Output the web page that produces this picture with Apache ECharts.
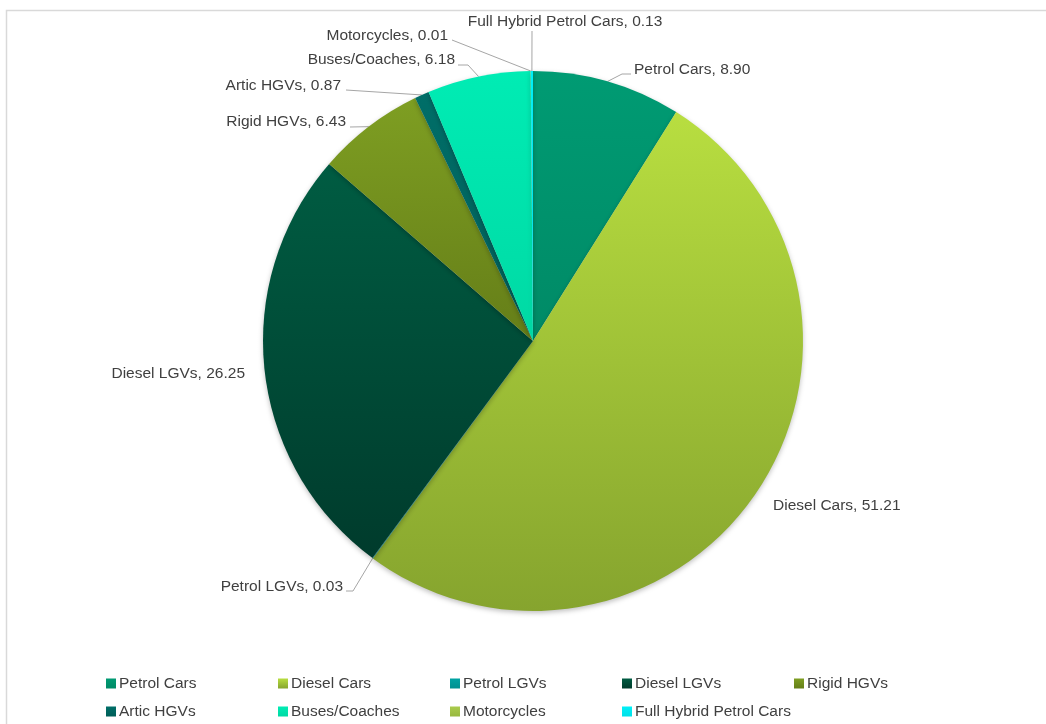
<!DOCTYPE html>
<html>
<head>
<meta charset="utf-8">
<script src="https://cdn.jsdelivr.net/npm/echarts@6/dist/echarts.min.js"></script>
<style>
  html, body { margin: 0; padding: 0; background: #fff; }
  #chart { width: 1046px; height: 724px; }
</style>
</head>
<body>
<div id="chart"></div>
<script>
// data
var categories = ['Petrol Cars', 'Diesel Cars', 'Petrol LGVs', 'Diesel LGVs', 'Rigid HGVs',
  'Artic HGVs', 'Buses/Coaches', 'Motorcycles', 'Full Hybrid Petrol Cars'];
var values = [8.90, 51.21, 0.03, 26.25, 6.43, 0.87, 6.18, 0.01, 0.13];

// slice colours (top, bottom) - Excel style shading
var sliceColors = [
  ['#009B73', '#008a66'],
  ['#B8DE40', '#86A42E'],
  ['#00A3A3', '#009090'],
  ['#005C42', '#003B2C'],
  ['#7E9E22', '#657E18'],
  ['#006E68', '#005E58'],
  ['#00ECB4', '#00D9A4'],
  ['#AACB4C', '#98B840'],
  ['#00F0F8', '#00E0E8']
];

// label anchor [x, y, align] and leader line bends
var labelPos = [
  [634, 70, 'left', [[622, 74], [631, 74]]],
  [773, 506, 'left', null],
  [343, 587, 'right', [[353, 591], [346, 591]]],
  [245, 374, 'right', null],
  [346, 122, 'right', [[350, 127]]],
  [341, 86, 'right', [[346, 90]]],
  [455, 60, 'right', [[468, 65], [458, 65]]],
  [448, 36, 'right', [[452, 40]]],
  [565, 22, 'center', [[532, 31]]]
];

var chart = echarts.init(document.getElementById('chart'));

var pieData = categories.map(function (name, i) {
  return {
    name: name,
    value: values[i],
    itemStyle: {
      color: new echarts.graphic.LinearGradient(0, 0, 0, 1, [
        { offset: 0, color: sliceColors[i][0] },
        { offset: 1, color: sliceColors[i][1] }
      ])
    },
    labelLine: { show: !!labelPos[i][3] }
  };
});

var option = {
  backgroundColor: '#fff',
  animation: false,
  graphic: [{
    type: 'rect',
    shape: { x: 6.5, y: 10.5, width: 1200, height: 900 },
    style: { fill: 'none', stroke: '#d9d9d9', lineWidth: 1.5 },
    silent: true
  }],
  legend: {
    left: 106,
    top: 674,
    padding: 0,
    width: 900,
    itemWidth: 10,
    itemHeight: 10,
    itemGap: 9,
    icon: 'rect',
    data: categories,
    textStyle: {
      fontFamily: 'Liberation Sans, Arial, sans-serif',
      fontSize: 15.5,
      color: '#404040',
      width: 150,
      lineHeight: 19,
      padding: [0, 0, 0, -2]
    }
  },
  series: [{
    type: 'pie',
    center: [533, 341],
    radius: 270,
    startAngle: 90,
    clockwise: true,
    avoidLabelOverlap: false,
    itemStyle: {
      shadowBlur: 5,
      shadowOffsetY: 2,
      shadowColor: 'rgba(0,0,0,0.25)'
    },
    label: {
      show: true,
      position: 'outside',
      fontFamily: 'Liberation Sans, Arial, sans-serif',
      fontSize: 15.5,
      color: '#404040',
      formatter: function (p) {
        return p.name + ', ' + p.value.toFixed(2);
      }
    },
    labelLine: {
      show: true,
      lineStyle: { color: '#a6a6a6', width: 1 }
    },
    labelLayout: function (params) {
      var p = labelPos[params.dataIndex];
      var res = { x: p[0], y: p[1], align: p[2], verticalAlign: 'middle' };
      if (p[3] && params.labelLinePoints) {
        res.labelLinePoints = [params.labelLinePoints[0]].concat(p[3]);
      }
      return res;
    },
    emphasis: { disabled: true },
    data: pieData
  }]
};

chart.setOption(option);
</script>
</body>
</html>
